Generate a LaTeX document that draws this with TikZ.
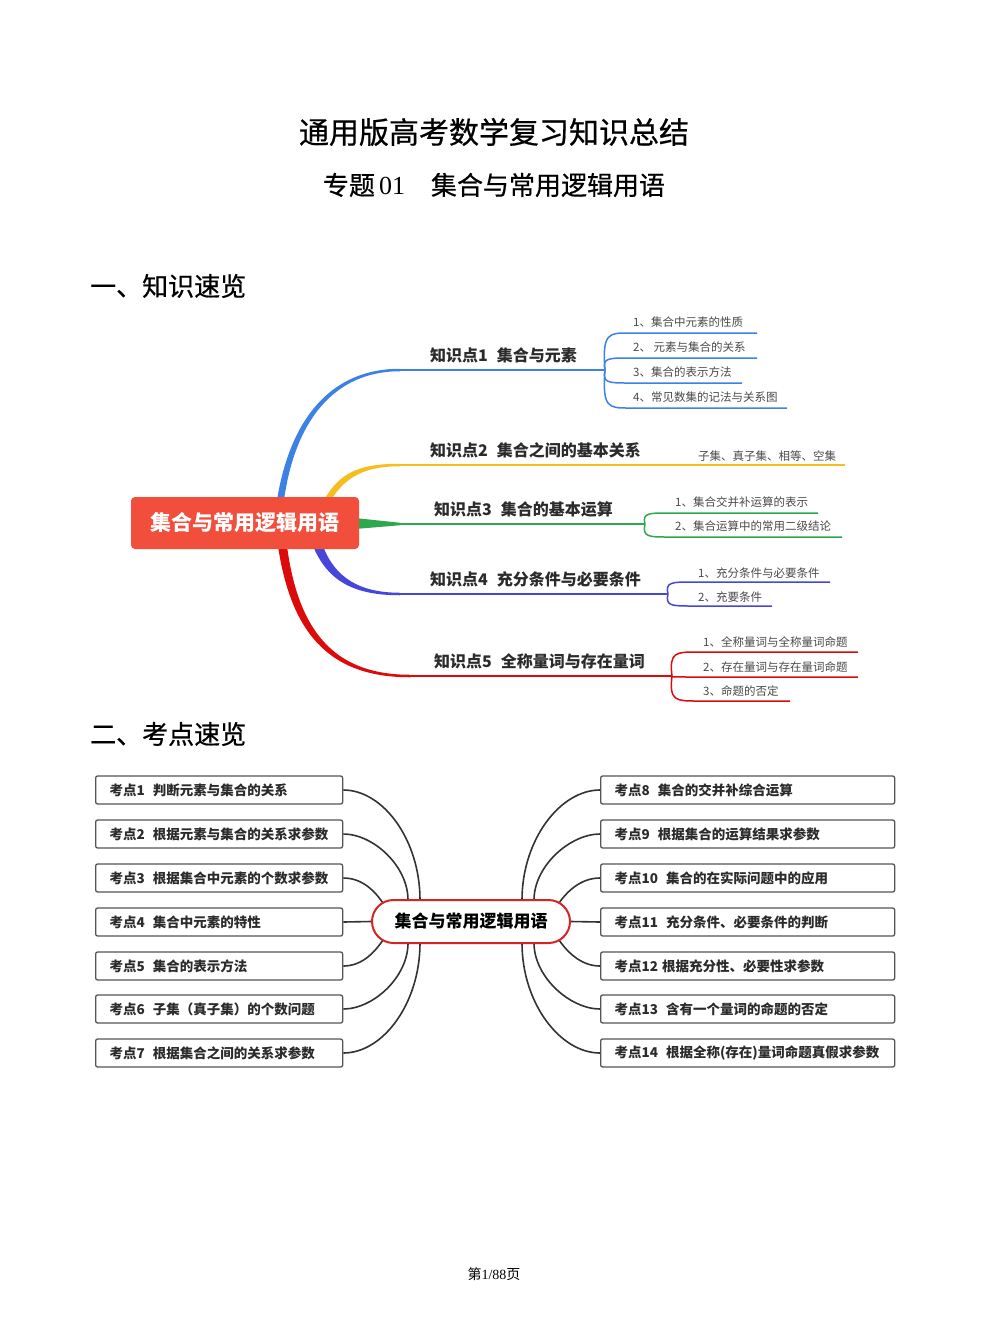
\documentclass[tikz,border=0pt]{standalone}
\usepackage{fontspec}
\setmainfont{Noto Sans CJK SC}
\newfontfamily\heavyfont{Noto Sans CJK SC}[FakeBold=0.6]
\newfontfamily\serifnum{Liberation Serif}
\usetikzlibrary{calc,backgrounds}

\definecolor{rootred}{HTML}{F24E3C}
\definecolor{ringred}{HTML}{D42424}
\definecolor{cblue}{HTML}{3C82E6}
\definecolor{cyellow}{HTML}{F5BE1E}
\definecolor{cgreen}{HTML}{2EA84E}
\definecolor{cpurple}{HTML}{4646DC}
\definecolor{cred}{HTML}{DC0A0A}
\definecolor{txtdark}{HTML}{2B2B2B}
\definecolor{txtgray}{HTML}{4A4A4A}
\definecolor{boxgray}{HTML}{555555}
\definecolor{linkgray}{HTML}{333333}

\newcommand{\kgap}{\hspace{8pt}}

\tikzset{
  heading/.style={anchor=west,inner sep=0pt,font=\heavyfont\fontsize{26}{30}\selectfont},
  rootbox/.style={fill=rootred,rounded corners=4pt,minimum width=228pt,minimum height=52pt,
    text=white,font=\bfseries\fontsize{21}{24}\selectfont},
  topic/.style={anchor=west,inner sep=0pt,text=txtdark,font=\bfseries\fontsize{16}{19}\selectfont},
  subtopic/.style={anchor=west,inner sep=0pt,text=txtgray,font=\fontsize{11.5}{13}\selectfont},
  mainline/.style={line width=2.5pt},
  subline/.style={line width=1.5pt},
  centerbox/.style={draw=ringred,fill=white,line width=2pt,rounded corners=21.5pt,
    minimum width=198pt,minimum height=43pt,text=black,font=\bfseries\fontsize{17}{20}\selectfont},
  kdleft/.style={draw=boxgray,line width=1.3pt,rounded corners=2pt,anchor=west,
    minimum height=28pt,text width=219pt,inner xsep=14pt,align=left,
    text=txtdark,font=\bfseries\fontsize{13.5}{16}\selectfont},
  kdright/.style={kdleft,text width=266pt},
  link/.style={draw=linkgray,line width=1.6pt}
}

\begin{document}
\begin{tikzpicture}[x=1pt,y=-1pt]
  \useasboundingbox (0,0) rectangle (990,1320);

  % titles
  \node[font=\heavyfont\fontsize{30}{34}\selectfont,text=black] (title) at (494,132) {通用版高考数学复习知识总结};
  \node[font=\heavyfont\fontsize{26}{30}\selectfont,text=black] (subtitle) at (494,185)
    {专题\hspace{4pt}{\serifnum 01}\hspace{26pt}集合与常用逻辑用语};
  \node[heading] (sec1) at (90,286) {一、知识速览};
  \node[heading] (sec2) at (90,734) {二、考点速览};

  % ---- mind map 1 ----
  \coordinate (k1) at (605,370);
  \coordinate (k3) at (645,524);
  \coordinate (k4) at (668,594);
  \coordinate (k5) at (672,676);

  % tapered branches out of the root
  \fill[cblue] (277,500) .. controls (290,420) and (330,368.75) .. (400,368.75)
    -- (400,371.25) .. controls (334,371.25) and (295,421) .. (284,500) -- cycle;
  \draw[cblue,mainline] (400,370) -- (k1);
  \fill[cyellow] (324,500) .. controls (340,472) and (360,463.75) .. (400,463.75)
    -- (400,466.25) .. controls (366,466.25) and (346,476) .. (331,500) -- cycle;
  \draw[cyellow,mainline] (400,465) -- (845,465);
  \fill[cgreen] (355,518) -- (400,522.75) -- (400,525.25) -- (355,529) -- cycle;
  \draw[cgreen,mainline] (400,524) -- (k3);
  \fill[cpurple] (313,546) .. controls (328,582) and (355,595.25) .. (400,595.25)
    -- (400,592.75) .. controls (360,592.75) and (335,578) .. (323,546) -- cycle;
  \draw[cpurple,mainline] (400,594) -- (k4);
  \fill[cred] (278,546) .. controls (292,640) and (335,677.25) .. (410,677.25)
    -- (410,674.75) .. controls (340,674.75) and (299,638) .. (287,546) -- cycle;
  \draw[cred,mainline] (410,676) -- (k5);

  \node[rootbox] (root) at (245,523) {集合与常用逻辑用语};

  \node[topic] (t1) at (430,355) {知识点1\hspace{9pt}集合与元素};
  \node[topic] (t2) at (430,450) {知识点2\hspace{9pt}集合之间的基本关系};
  \node[topic] (t3) at (434,509) {知识点3\hspace{9pt}集合的基本运算};
  \node[topic] (t4) at (430,579) {知识点4\hspace{9pt}充分条件与必要条件};
  \node[topic] (t5) at (434,661) {知识点5\hspace{9pt}全称量词与存在量词};
  \node[subtopic] (t2a) at (698,456) {子集、真子集、相等、空集};

  % sub branches
  \foreach \ly/\lx/\txt [count=\i] in {333/757/{1、集合中元素的性质},358/757/{2、 元素与集合的关系},
      383/742/{3、集合的表示方法},408/787/{4、常见数集的记法与关系图}}{
    \draw[cblue,subline] (k1) .. controls (602,\ly) and (609,\ly) .. (628,\ly) -- (\lx,\ly);
    \node[subtopic] (p1-\i) at (633,\ly-11) {\txt};
  }
  \foreach \ly/\lx/\txt [count=\i] in {513/818/{1、集合交并补运算的表示},537/842/{2、集合运算中的常用二级结论}}{
    \draw[cgreen,subline] (k3) .. controls (642,\ly) and (649,\ly) .. (668,\ly) -- (\lx,\ly);
    \node[subtopic] (p3-\i) at (675,\ly-11) {\txt};
  }
  \foreach \ly/\lx/\txt [count=\i] in {582/830/{1、充分条件与必要条件},606/772/{2、充要条件}}{
    \draw[cpurple,subline] (k4) .. controls (665,\ly) and (672,\ly) .. (692,\ly) -- (\lx,\ly);
    \node[subtopic] (p4-\i) at (698,\ly-9) {\txt};
  }
  \foreach \ly/\lx/\txt [count=\i] in {652/858/{1、全称量词与全称量词命题},677/858/{2、存在量词与存在量词命题},
      701/790/{3、命题的否定}}{
    \draw[cred,subline] (k5) .. controls (669,\ly) and (676,\ly) .. (697,\ly) -- (\lx,\ly);
    \node[subtopic] (p5-\i) at (703,\ly-9.5) {\txt};
  }

  % ---- mind map 2 ----
  \node[centerbox] (mid) at (471,921.5) {集合与常用逻辑用语};

  \foreach \i/\y/\txt in {1/790/{判断元素与集合的关系},2/834/{根据元素与集合的关系求参数},
      3/878/{根据集合中元素的个数求参数},4/922/{集合中元素的特性},5/966/{集合的表示方法},
      6/1009/{子集（真子集）的个数问题},7/1053/{根据集合之间的关系求参数}}{
    \node[kdleft] (kd\i) at (95,\y) {考点\i\kgap\txt};
  }
  \foreach \i/\y/\txt in {8/790/{\kgap 集合的交并补综合运算},9/834/{\kgap 根据集合的运算结果求参数},
      10/878/{\kgap 集合的在实际问题中的应用},11/922/{\kgap 充分条件、必要条件的判断},
      12/966/{\hspace{4pt}根据充分性、必要性求参数},13/1009/{\kgap 含有一个量词的命题的否定},
      14/1053/{\kgap 根据全称(存在)量词命题真假求参数}}{
    \node[kdright] (kd\i) at (600,\y) {考点\i\txt};
  }

  \begin{scope}[on background layer]
    \fill[white] (0,0) rectangle (990,1320);
    \foreach \i/\ex/\ey/\ax/\bx/\by in {1/-51/-21.5/40/0/-60,2/-63/-21.5/30/0/-34,3/-87/-17/20/-8/-12,
        5/-87/17/20/-8/12,6/-63/21.5/30/0/34,7/-51/21.5/40/0/60}{
      \draw[link] (kd\i.east) .. controls ($(kd\i.east)+(\ax,0)$) and ($(mid.center)+(\ex,\ey)+(\bx,\by)$)
        .. ($(mid.center)+(\ex,\ey)$);
    }
    \foreach \i/\ex/\ey/\ax/\bx/\by in {8/51/-21.5/-40/0/-60,9/63/-21.5/-30/0/-34,10/87/-17/-20/8/-12,
        12/87/17/-20/8/12,13/63/21.5/-30/0/34,14/51/21.5/-40/0/60}{
      \draw[link] (kd\i.west) .. controls ($(kd\i.west)+(\ax,0)$) and ($(mid.center)+(\ex,\ey)+(\bx,\by)$)
        .. ($(mid.center)+(\ex,\ey)$);
    }
    \draw[link] (kd4.east) -- (mid.west);
    \draw[link] (kd11.west) -- (mid.east);
  \end{scope}

  % footer
  \node[font=\fontsize{14}{16}\selectfont,text=black] (foot) at (494,1274) {第{\serifnum 1/88}页};
\end{tikzpicture}
\end{document}
